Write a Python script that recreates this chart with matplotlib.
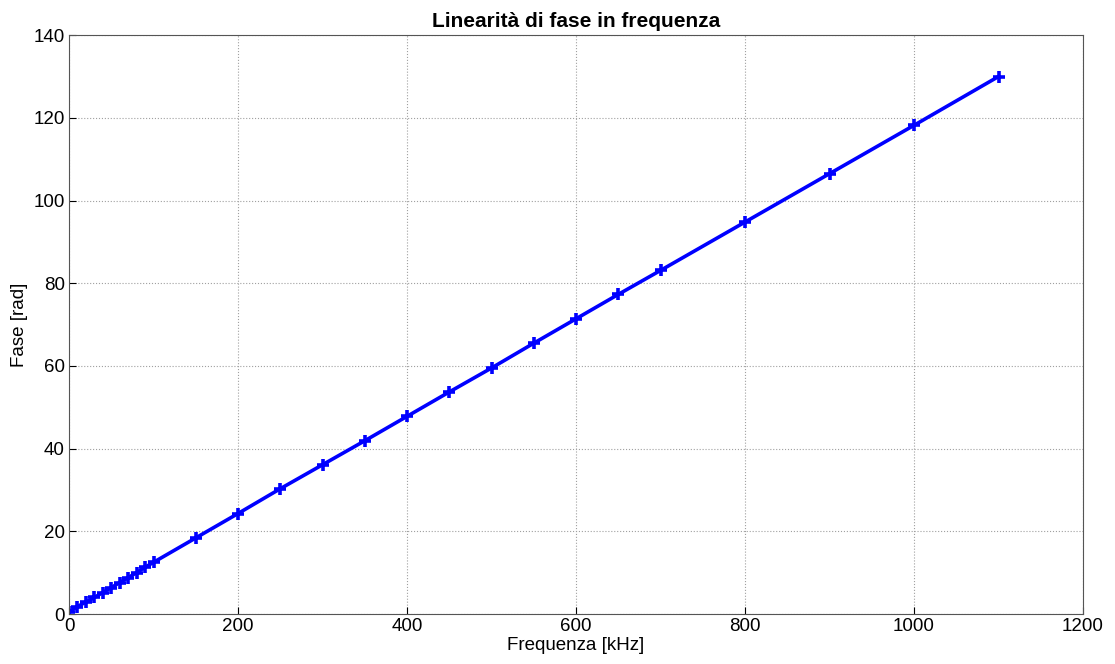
import matplotlib
matplotlib.use('Agg')
import matplotlib.pyplot as plt

plt.rcParams['font.family'] = ['Liberation Sans', 'DejaVu Sans']

# frequenze misurate [kHz] e fase [rad]
freq = [0, 10, 20, 30, 40, 50, 60, 70, 80, 90, 100,
        150, 200, 250, 300, 350, 400, 450, 500, 550, 600, 650, 700,
        800, 900, 1000, 1100]
fase = [0.5, 1.8, 2.9, 4.0, 5.2, 6.4, 7.6, 8.8, 10.0, 11.3, 12.5,
        18.4, 24.3, 30.3, 36.1, 41.9, 47.8, 53.7, 59.5, 65.5, 71.4, 77.3, 83.1,
        94.8, 106.5, 118.2, 130.0]

fig = plt.figure(figsize=(11.15, 6.64), dpi=100)
ax = fig.add_axes([0.0619, 0.0753, 0.9094, 0.8717])

ax.plot(freq, fase, color='#0000ff', linewidth=2.6, marker='+',
        markersize=9, markeredgewidth=2.6)

ax.set_xlim(0, 1200)
ax.set_ylim(0, 140)
ax.set_xticks(range(0, 1201, 200))
ax.set_yticks(range(0, 141, 20))
ax.grid(True, linestyle=':', color='#a0a0a0', linewidth=0.8)
ax.tick_params(labelsize=13.5, direction='in', length=5, pad=3)
for s in ax.spines.values():
    s.set_color('#555555')

ax.set_xlabel('Frequenza [kHz]', fontsize=13.5, labelpad=1)
ax.set_ylabel('Fase [rad]', fontsize=13.5, labelpad=4)
ax.set_title('Linearità di fase in frequenza', fontsize=15, fontweight='bold', pad=6)

fig.savefig('out.png', dpi=100)
